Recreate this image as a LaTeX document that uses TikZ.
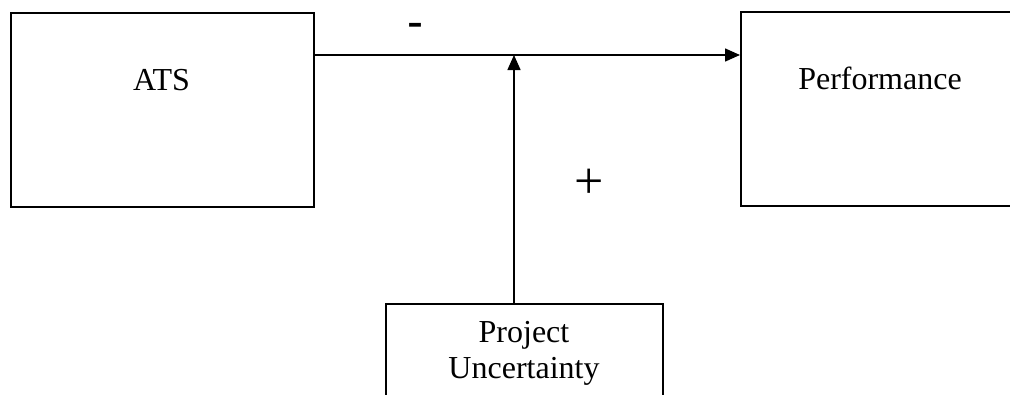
\documentclass[tikz,border=0pt]{standalone}
\usepackage{fontspec}
\setmainfont{Liberation Serif}
\newfontfamily\signfont{DejaVu Sans}
\usetikzlibrary{arrows.meta}
\begin{document}
\begin{tikzpicture}[x=1pt,y=-1pt,
  boxshape/.style={draw,line width=1.5pt,rectangle,inner sep=0pt,anchor=north west},
  boxtext/.style={font=\fontsize{32}{36}\selectfont,inner sep=0pt,anchor=base,align=center},
  conn/.style={line width=1.5pt,-{Triangle[length=15pt,width=13pt]}}]
\useasboundingbox (0,0) rectangle (1010,394);
\clip (0,0) rectangle (1010,394);
\node[boxshape,minimum width=303pt,minimum height=194pt] (ats) at (10,12) {};
\node[boxshape,minimum width=280pt,minimum height=194pt] (perf) at (740,11) {};
\node[boxshape,minimum width=277pt,minimum height=110pt] (unc) at (385,303) {};
\node[boxtext] (atst) at (161.5,90) {ATS};
\node[boxtext] (perft) at (880,89) {Performance};
\node[boxtext] (unct) at (524,378) {Project\\Uncertainty};
\coordinate (mid) at (514,55);
\draw[conn] (ats.north east |- mid) -- (perf.north west |- mid);
\draw[conn] (unc.north west -| mid) -- (mid);
\node[font=\signfont\bfseries\fontsize{30}{30}\selectfont,inner sep=0pt,anchor=base] (minus) at (415,33) {–};
\node[font=\fontsize{52}{52}\selectfont,inner sep=0pt] (plus) at (589,184) {+};
\end{tikzpicture}
\end{document}
